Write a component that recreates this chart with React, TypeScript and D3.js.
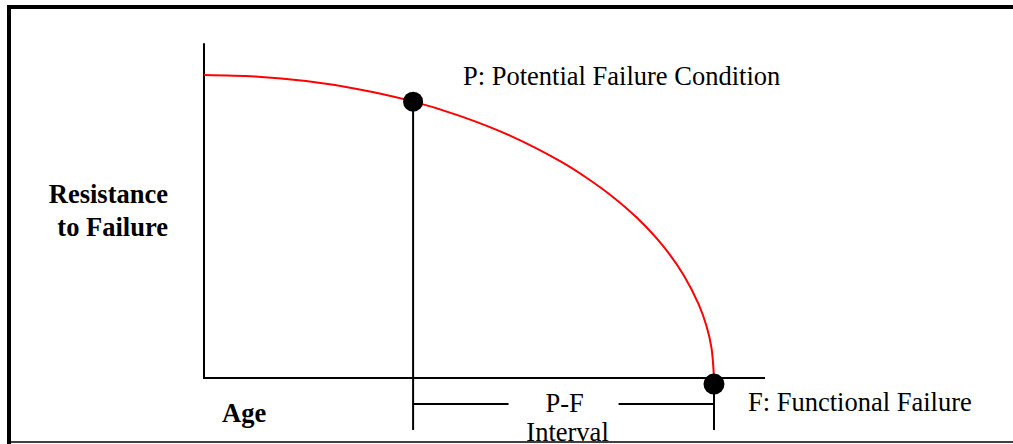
import React from 'react';
import * as d3 from 'd3';

// resistance-to-failure curve (age, resistance)
const curveAge = [0, 10, 20, 30, 40, 50, 60, 70, 75, 80, 85, 90, 94, 97, 98.5, 99.5, 100];
const curveResistance = [100, 99.5, 98, 95.4, 91.7, 86.6, 80, 71.4, 66.1, 60, 52.7, 43.6, 34.1, 24.3, 17.3, 10, 0];

const pointP = { age: 41, resistance: 91.2 };
const pointF = { age: 100, resistance: -2 };

const labelP = 'P: Potential Failure Condition';
const labelF = 'F: Functional Failure';
const labelY = ['Resistance', 'to Failure'];
const labelX = 'Age';
const labelPF = ['P-F', 'Interval'];

const W = 1013;
const H = 444;
const serif = "'Liberation Serif', 'DejaVu Serif', 'Times New Roman', serif";
const fs = 26.5;

export default function App() {
  const x = d3.scaleLinear().domain([0, 110]).range([204, 765]);
  const y = d3.scaleLinear().domain([0, 100]).range([378, 75]);

  const data = curveAge.map((a, i) => ({ a, r: curveResistance[i] }));
  const line = d3.line<{ a: number; r: number }>()
    .x(d => x(d.a))
    .y(d => y(d.r))
    .curve(d3.curveCatmullRom.alpha(0.5));

  const px = x(pointP.age);
  const fx = x(pointF.age);
  const bracketY = 404;
  const bracketBottom = 430;
  const pfMid = (px + fx) / 2;

  const textStyle: React.CSSProperties = { fontFamily: serif };

  return (
    <div style={{ position: 'fixed', left: 0, top: 0 }}>
      <svg width={W} height={H} style={{ display: 'block' }}>
        <rect width={W} height={H} fill="#fff" />
        {/* frame */}
        <line x1={7} x2={W} y1={7} y2={7} stroke="#000" strokeWidth={4} />
        <line x1={9} x2={9} y1={5} y2={H} stroke="#000" strokeWidth={4} />
        <line x1={9} x2={W} y1={442} y2={442} stroke="#000" strokeWidth={1.5} />

        {/* axes */}
        <line x1={x(0)} x2={x(0)} y1={y(110.5)} y2={y(0) + 1} stroke="#000" strokeWidth={2} />
        <line x1={x(0) - 1} x2={x(110)} y1={y(0)} y2={y(0)} stroke="#000" strokeWidth={2} />

        {/* P-F interval bracket */}
        <line x1={px} x2={px} y1={y(pointP.resistance)} y2={bracketBottom} stroke="#000" strokeWidth={2} />
        <line x1={fx} x2={fx} y1={y(pointF.resistance)} y2={bracketBottom} stroke="#000" strokeWidth={2} />
        <line x1={px} x2={pfMid - 55} y1={bracketY} y2={bracketY} stroke="#000" strokeWidth={2} />
        <line x1={pfMid + 55} x2={fx} y1={bracketY} y2={bracketY} stroke="#000" strokeWidth={2} />

        {/* curve */}
        <path d={line(data) ?? ''} fill="none" stroke="#ff0000" strokeWidth={2} />

        {/* points */}
        <circle cx={px} cy={y(pointP.resistance)} r={10} fill="#000" />
        <circle cx={fx} cy={y(pointF.resistance)} r={10.5} fill="#000" />

        {/* text */}
        <g fill="#000" style={textStyle}>
          <text x={463} y={85} fontSize={fs} style={textStyle}>{labelP}</text>
          <text x={748} y={411} fontSize={fs} style={textStyle}>{labelF}</text>
          <text x={pfMid + 1} y={412} fontSize={fs} textAnchor="middle" style={textStyle}>{labelPF[0]}</text>
          <text x={pfMid + 4} y={441} fontSize={fs} textAnchor="middle" style={textStyle}>{labelPF[1]}</text>
          <text x={168} y={203} fontSize={fs} fontWeight="bold" textAnchor="end" style={textStyle}>{labelY[0]}</text>
          <text x={168} y={236} fontSize={fs} fontWeight="bold" textAnchor="end" style={textStyle}>{labelY[1]}</text>
          <text x={222} y={422} fontSize={fs} fontWeight="bold" style={textStyle}>{labelX}</text>
        </g>
      </svg>
    </div>
  );
}
